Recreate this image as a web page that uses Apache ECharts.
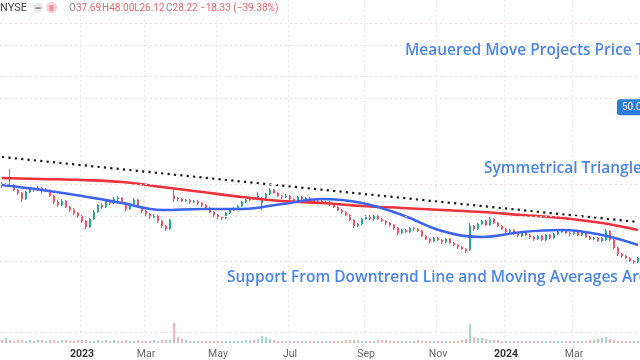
<!DOCTYPE html>
<html><head><meta charset="utf-8">
<script src="https://cdn.jsdelivr.net/npm/echarts@6/dist/echarts.min.js"></script>
<style>html,body{margin:0;padding:0;background:#fff}#c{width:640px;height:360px}</style>
</head><body><div id="c"></div><script>
// ---- data ----
const opens=[39.24,38.96,39.24,39.10,38.40,37.98,37.14,38.12,38.54,38.40,
38.68,38.26,38.40,37.56,36.72,36.30,36.86,36.02,35.60,35.18,
34.76,34.06,33.22,34.34,35.32,36.30,36.02,36.86,36.58,37.14,
37.28,36.58,35.74,36.44,37.00,36.02,35.46,35.04,34.62,34.76,
34.06,33.36,32.94,37.56,37.28,37.14,36.86,37.00,36.72,36.86,
36.58,36.30,35.88,35.32,34.90,34.62,34.48,35.18,35.60,35.88,
36.16,36.72,37.00,37.28,37.14,36.58,37.28,37.84,38.40,37.98,
37.56,37.42,37.56,37.14,36.86,37.42,37.14,37.28,37.00,36.72,
36.86,36.58,36.72,36.30,36.02,35.60,35.32,34.90,34.20,33.36,
33.64,34.34,34.76,34.34,34.76,34.34,34.06,33.78,33.50,33.08,
32.38,32.80,32.52,33.08,32.94,32.66,31.96,31.54,31.26,31.68,
31.40,31.12,31.54,30.98,30.70,30.42,30.14,30.00,33.36,32.94,
33.64,34.06,33.50,34.34,33.78,33.36,32.94,32.52,32.80,32.24,
31.96,32.38,32.10,31.82,31.54,31.96,31.40,32.10,31.68,32.24,
32.52,32.66,32.38,32.24,32.52,32.10,32.38,31.82,31.54,31.68,
31.26,31.40,32.66,31.40,30.28,29.44,29.16,28.88,28.46,28.32];
const closes=[38.96,39.24,39.10,38.40,37.98,37.14,38.12,38.54,38.40,38.68,
38.26,38.40,37.56,36.72,36.30,36.86,36.02,35.60,35.18,34.76,
34.06,33.22,34.34,35.32,36.30,36.02,36.86,36.58,37.14,37.28,
36.58,35.74,36.44,37.00,36.02,35.46,35.04,34.62,34.76,34.06,
33.36,32.94,34.20,37.14,37.14,36.86,37.00,36.72,36.86,36.58,
36.30,35.88,35.32,34.90,34.62,34.48,35.18,35.60,35.88,36.16,
36.72,37.00,37.28,37.14,37.56,37.28,37.84,38.40,37.98,37.56,
37.42,37.56,37.14,36.86,37.42,37.14,37.28,37.00,36.72,36.86,
36.58,36.72,36.30,36.02,35.60,35.32,34.90,34.20,33.36,33.64,
34.34,34.76,34.34,34.76,34.34,34.06,33.78,33.50,33.08,32.38,
32.80,32.52,33.08,32.94,32.66,31.96,31.54,31.26,31.68,31.40,
31.12,31.54,30.98,30.70,30.42,30.14,29.86,33.36,32.94,33.64,
34.06,33.50,34.34,33.78,33.36,32.94,32.52,32.80,32.24,31.96,
32.38,32.10,31.82,31.54,31.96,31.40,32.10,31.68,32.24,32.52,
32.66,32.38,32.24,32.52,32.10,32.38,31.82,31.54,31.68,31.26,
31.68,32.66,31.40,30.28,29.44,29.16,28.88,28.46,28.32,28.88];
const lows=[38.68,38.82,38.82,38.26,37.70,36.72,37.00,37.98,38.12,38.26,
37.98,38.12,37.42,36.44,36.02,36.16,35.88,35.32,34.90,34.48,
33.78,32.94,33.08,34.20,35.18,35.74,35.88,36.30,36.44,36.86,
36.44,35.46,35.60,36.30,35.88,35.18,34.76,34.34,34.48,33.78,
33.08,32.66,32.80,36.72,36.86,36.72,36.72,36.44,36.58,36.30,
36.02,35.60,35.18,34.62,34.34,34.20,34.34,35.04,35.46,35.74,
36.02,36.58,36.86,37.00,37.00,35.60,37.14,37.70,37.84,37.42,
37.14,37.28,37.00,36.58,36.72,37.00,37.00,36.86,36.58,36.58,
36.44,36.44,36.16,35.88,35.46,35.04,34.76,34.06,33.08,33.22,
33.50,34.20,34.20,34.06,34.20,33.92,33.50,33.36,32.80,32.10,
32.24,32.38,32.38,32.66,32.52,31.82,31.40,30.98,31.12,31.26,
30.84,30.98,30.84,30.56,30.14,30.00,29.58,29.86,32.66,32.80,
33.50,33.36,33.36,33.64,33.22,32.80,32.38,32.38,32.10,31.82,
31.82,31.96,31.54,31.26,31.40,31.26,31.26,31.54,31.54,32.10,
32.38,32.24,31.96,32.10,31.96,31.96,31.68,31.40,31.40,31.12,
31.12,31.26,31.26,30.14,29.16,28.88,28.74,28.32,28.04,28.18];
const highs=[39.52,39.38,41.34,39.24,38.54,38.12,38.26,38.82,38.68,38.96,
38.82,38.68,38.54,37.70,37.00,37.14,37.00,36.16,35.88,35.32,
34.90,34.20,34.48,35.60,36.44,36.58,37.14,37.00,37.42,37.56,
37.42,36.72,36.58,37.28,37.14,36.16,35.60,35.18,35.04,34.90,
34.20,33.50,34.34,38.40,37.42,37.28,37.14,37.14,37.00,37.00,
36.72,36.44,36.02,35.46,35.04,34.76,35.32,35.74,36.02,36.30,
36.86,37.14,37.42,37.42,38.12,37.42,37.98,38.68,38.54,38.12,
37.70,37.84,37.70,37.28,37.56,37.56,37.42,37.42,37.14,37.00,
37.00,36.86,36.86,36.44,36.16,35.74,35.46,35.04,34.34,33.78,
34.48,34.90,34.90,34.90,34.90,34.48,34.20,33.92,33.64,33.22,
32.94,32.94,33.22,33.22,33.08,32.80,32.10,31.68,31.82,31.82,
31.54,31.68,31.68,31.12,30.84,30.56,30.28,33.78,33.50,33.78,
34.20,34.20,34.62,34.48,33.92,33.50,33.08,32.94,32.94,32.38,
32.52,32.52,32.24,31.96,32.10,32.10,32.24,32.24,32.38,32.66,
32.80,32.80,32.52,32.66,32.66,32.52,32.52,31.96,31.82,31.82,
31.82,32.94,32.80,31.54,30.42,29.58,29.30,29.02,28.60,29.02];
const volumes=[3,5,3,2,3,3,2,3,2,3, 3,2,3,3,2,3,3,2,2,3, 3,3,2,2,3,2,3,2,3,2, 2,3,2,2,3,2,2,2,3,2,
3,3,3,20,6,4,3,2,2,2, 2,2,2,2,2,2,2,2,2,2, 2,3,3,3,4,7,6,4,3,2, 2,2,2,2,2,2,2,2,2,2,
2,2,2,2,2,2,3,3,3,3, 2,2,2,2,3,3,3,2,2,2, 2,2,2,2,3,2,2,2,2,2, 2,2,2,2,2,3,4,19,6,5,
5,4,3,3,3,2,2,2,2,2, 2,2,2,2,2,2,2,2,2,2, 2,2,2,2,2,2,2,3,3,4, 5,6,4,3,2,2,2,2,2,2];
const maIdx=[0,10,20,30,40,50,60,70,80,90,100,110,120,130,140,150,159];
const maLong=[40.08,39.94,39.80,39.52,38.82,38.12,37.42,36.86,36.58,36.16,35.88,35.60,35.32,34.90,34.48,33.78,32.80];
const maShort=[39.10,38.40,37.56,36.58,35.60,35.74,35.74,36.44,37.14,36.58,34.90,32.66,31.82,32.52,32.80,32.10,30.70];
const trendIdx=[0,159];
const trendVals=[43.02,33.92];
const tickLabels={20:'2023',36:'Mar',54:'May',72:'Jul',91:'Sep',109:'Nov',126:'2024',143:'Mar'};
const yearTicks=['2023','2024'];
const gridPrices=[61.78,58.70,54.36,51.28,39.24,34.76,28.46];
const volGrid=[11];
const priceTag=50;
const header={ex:'NYSE',o:'37.69',h:'48.00',l:'26.12',c:'28.22',chg:'\u221218.33 (\u221239.38%)'};
const notes=['Meauered Move Projects Price Target','Symmetrical Triangle','Support From Downtrend Line and Moving Averages Around'];

// ---- chart ----
const categories=opens.map((_,i)=>'c'+i);
const isTick=i=>tickLabels[i]!==undefined;
const candleData=opens.map((o,i)=>[o,closes[i],lows[i],highs[i]]);
const volData=volumes.map((v,i)=>({value:v,itemStyle:{color:closes[i]>=opens[i]?'rgba(38,166,154,0.45)':'rgba(239,83,80,0.45)'}}));
const vGrid={show:true,interval:(i)=>isTick(i),lineStyle:{color:'#e6e6ec',type:[2,3],width:1}};
const chart=echarts.init(document.getElementById('c'));
chart.setOption({
  animation:false,backgroundColor:'#ffffff',
  grid:[{left:0,right:0,top:0,height:300},{left:0,right:0,top:300,height:43}],
  xAxis:[
    {type:'category',gridIndex:0,data:categories,axisLine:{show:false},axisTick:{show:false},axisLabel:{show:false},splitLine:vGrid},
    {type:'category',gridIndex:1,data:categories,axisLine:{show:false},axisTick:{show:false},splitLine:vGrid,
     axisLabel:{show:true,interval:(i)=>isTick(i),margin:6,fontSize:10.5,color:'#666',fontFamily:'Roboto',
       formatter:(v,i)=>{const t=tickLabels[i]||'';return yearTicks.includes(t)?'{b|'+t+'}':t;},
       rich:{b:{fontWeight:'bold',fontSize:10.5,color:'#333',fontFamily:'Roboto'}}}}
  ],
  yAxis:[
    {type:'value',gridIndex:0,min:23,max:65,show:false},
    {type:'value',gridIndex:1,min:0,max:43,show:false}
  ],
  series:[
    {type:'candlestick',xAxisIndex:0,yAxisIndex:0,data:candleData,barWidth:2.4,
     itemStyle:{color:'#22ab94',color0:'#f7525f',borderColor:'#22ab94',borderColor0:'#f7525f',borderWidth:1},
     markLine:{silent:true,symbol:['none','none'],label:{show:false},
       lineStyle:{color:'#eedde2',type:[2,3],width:1},data:gridPrices.map(v=>({yAxis:v}))}},
    {type:'bar',xAxisIndex:1,yAxisIndex:1,data:volData,barWidth:2,
     markLine:{silent:true,symbol:['none','none'],label:{show:false},
       lineStyle:{color:'#eedde2',type:[2,3],width:1},data:volGrid.map(v=>({yAxis:v}))}},
    {type:'line',xAxisIndex:0,yAxisIndex:0,data:maIdx.map((x,k)=>[x,maLong[k]]),smooth:0.4,symbol:'none',
     lineStyle:{color:'#f0303a',width:2.6}},
    {type:'line',xAxisIndex:0,yAxisIndex:0,data:maIdx.map((x,k)=>[x,maShort[k]]),smooth:0.4,symbol:'none',
     lineStyle:{color:'#3c64f0',width:2.6}},
    {type:'line',xAxisIndex:0,yAxisIndex:0,data:trendIdx.map((x,k)=>[x,trendVals[k]]),symbol:'none',
     lineStyle:{color:'#1a1a1a',width:2.2,type:[2.2,4.2]}}
  ]
});
const py=chart.convertToPixel({yAxisIndex:0},priceTag);
const noteFont='600 15.5px "Open Sans"';
const red='#f0646e', grey='#888';
const ohlc=(x,l,v)=>({type:'text',style:{x:x,y:8,text:'{l|'+l+'}{v|'+v+'}',verticalAlign:'middle',
   rich:{l:{fill:grey,font:'10px Roboto'},v:{fill:red,font:'10px Roboto'}}}});
chart.setOption({graphic:[
  {type:'text',style:{x:0,y:8,text:header.ex,fill:'#444',font:'11px Roboto',verticalAlign:'middle'}},
  {type:'rect',shape:{x:33,y:3,width:10,height:10,r:5},style:{fill:'#e6e6e8'}},
  {type:'rect',shape:{x:35.5,y:7.5,width:5,height:1.2},style:{fill:'#666'}},
  {type:'rect',shape:{x:46,y:2,width:11,height:11,r:5},style:{fill:'#fbd3d6'}},
  {type:'rect',shape:{x:49.5,y:5.5,width:4,height:1},style:{fill:'#f0505c'}},
  {type:'rect',shape:{x:49.5,y:7.5,width:4,height:1},style:{fill:'#f0505c'}},
  {type:'rect',shape:{x:49.5,y:9.5,width:4,height:1},style:{fill:'#f0505c'}},
  ohlc(69,'O',header.o),ohlc(102,'H',header.h),ohlc(134,'L',header.l),ohlc(166,'C',header.c),
  {type:'text',style:{x:200,y:8,text:header.chg,fill:red,font:'10px Roboto',verticalAlign:'middle'}},
  {type:'text',style:{x:405,y:51,text:notes[0],fill:'#4a86e8',font:noteFont,verticalAlign:'middle'}},
  {type:'text',style:{x:484,y:169,text:notes[1],fill:'#4a86e8',font:noteFont,verticalAlign:'middle'}},
  {type:'text',style:{x:227,y:278,text:notes[2],fill:'#4a86e8',font:noteFont,verticalAlign:'middle'}},
  {type:'rect',shape:{x:617,y:py-8,width:30,height:16,r:3},style:{fill:'#2d7bd8'}},
  {type:'text',style:{x:622,y:py,text:priceTag.toFixed(2),fill:'#fff',font:'10px Roboto',verticalAlign:'middle'}}
]});
</script></body></html>
